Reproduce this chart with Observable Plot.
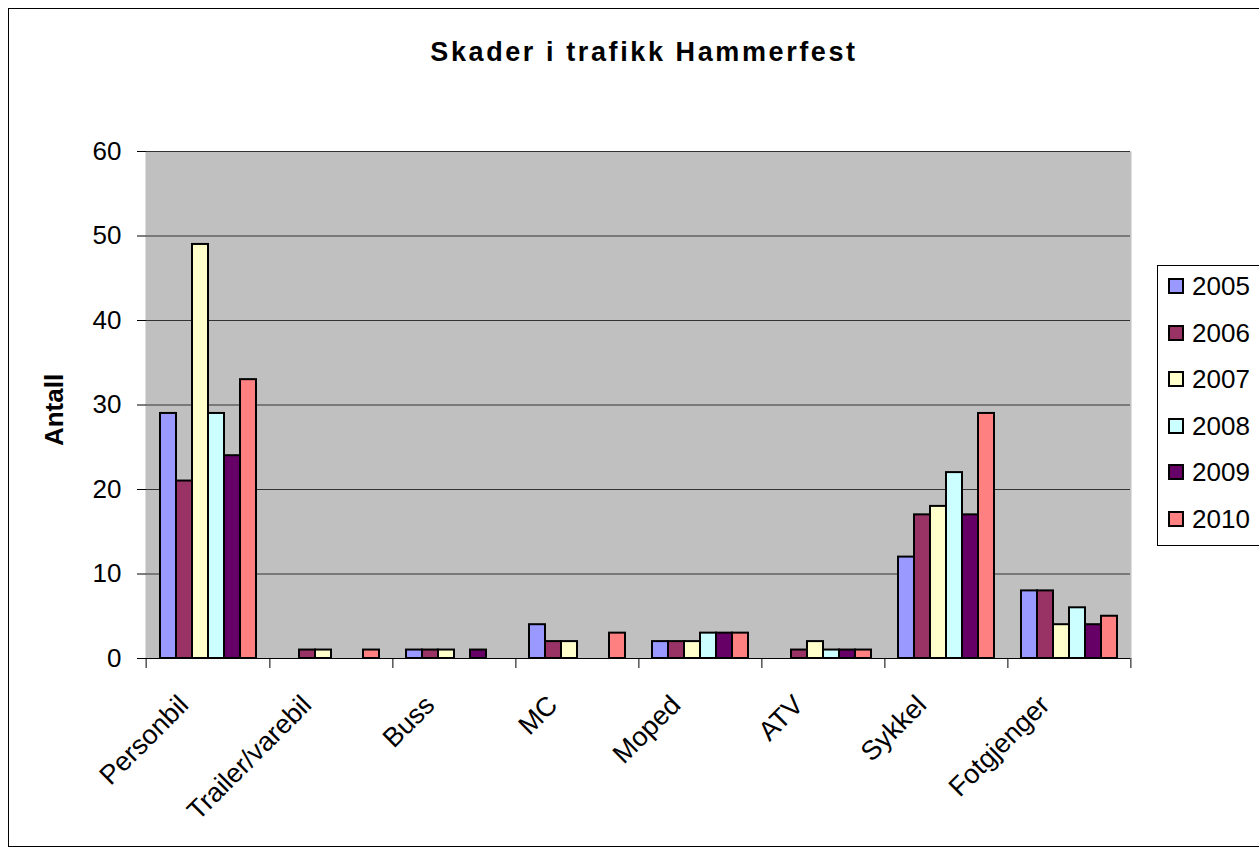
<!DOCTYPE html>
<html>
<head>
<meta charset="utf-8">
<script src="https://cdn.jsdelivr.net/npm/d3@7"></script>
<script src="https://cdn.jsdelivr.net/npm/@observablehq/plot@0.6"></script>
<style>
  html, body { margin: 0; padding: 0; background: #fff; overflow: hidden; }
  body { width: 1259px; height: 856px; position: relative; font-family: "Liberation Sans", Arial, sans-serif; }
  #frame { position: absolute; left: 8px; top: 8px; width: 1300px; height: 839px; border: 1px solid #000; box-sizing: border-box; }
  #chart { position: absolute; left: 0; top: 0; }
  #title { position: absolute; left: 0; width: 1288px; top: 39px; text-align: center; font-weight: bold; font-size: 27px; line-height: 27px; letter-spacing: 2.6px; }
  #ylabel { position: absolute; left: 54px; top: 410px; transform: translate(-50%, -50%) rotate(-90deg); font-weight: bold; font-size: 26px; line-height: 26px; white-space: nowrap; }
  #legend { position: absolute; left: 1157px; top: 265px; width: 140px; height: 281px; border: 1px solid #000; box-sizing: border-box; background: #fff; }
  .item { position: absolute; left: 10px; height: 28px; display: flex; align-items: center; font-size: 26px; line-height: 28px; }
  .sw { width: 12px; height: 12px; border: 2px solid #000; margin-right: 8px; }
</style>
</head>
<body>
<div id="frame"></div>
<div id="chart"></div>
<div id="title">Skader i trafikk Hammerfest</div>
<div id="ylabel">Antall</div>
<div id="legend"></div>
<script>
const categories = ["Personbil", "Trailer/varebil", "Buss", "MC", "Moped", "ATV", "Sykkel", "Fotgjenger"];
const years = ["2005", "2006", "2007", "2008", "2009", "2010"];
const v2005 = [29, 0, 1, 4, 2, 0, 12, 8];
const v2006 = [21, 1, 1, 2, 2, 1, 17, 8];
const v2007 = [49, 1, 1, 2, 2, 2, 18, 4];
const v2008 = [29, 0, 0, 0, 3, 1, 22, 6];
const v2009 = [24, 0, 1, 0, 3, 1, 17, 4];
const v2010 = [33, 1, 0, 3, 3, 1, 29, 5];
const yTicks = [0, 10, 20, 30, 40, 50, 60];
const colors = ["#9999FF", "#993366", "#FFFFCC", "#CCFFFF", "#660066", "#FF8080"];

const series = [v2005, v2006, v2007, v2008, v2009, v2010];
const rows = [];
categories.forEach((c, i) => {
  years.forEach((y, j) => {
    rows.push({category: c, year: y, value: series[j][i]});
  });
});
const bars = rows.filter(d => d.value > 0);

const W = 1259, H = 856;
const mL = 143, mR = 126, mT = 151, mB = 198;
const step = (W - mL - mR) / categories.length;

const chart = Plot.plot({
  width: W,
  height: H,
  marginLeft: mL,
  marginRight: mR,
  marginTop: mT,
  marginBottom: mB,
  style: {fontFamily: "'Liberation Sans', Arial, sans-serif", background: "transparent", color: "#000"},
  fx: {domain: categories, padding: 0, label: null},
  x: {domain: years, paddingInner: 0, paddingOuter: 0.71, axis: null},
  y: {domain: [0, 60], label: null},
  color: {domain: years, range: colors},
  marks: [
    Plot.frame({fill: "#C0C0C0", stroke: null, insetLeft: -1, insetRight: -1}),
    Plot.gridY(yTicks, {stroke: "#333333", strokeOpacity: 1, strokeWidth: 1.2}),
    Plot.axisY({ticks: yTicks, tickSize: 9, tickPadding: 16, fontSize: 26, line: true, stroke: "#000", label: null}),
    Plot.axisY({anchor: "right", ticks: [], line: true, stroke: "#808080", label: null}),
    Plot.barY(bars, {fx: "category", x: "year", y: "value", fill: "year", stroke: "#000", strokeWidth: 2}),
    Plot.ruleY([0], {stroke: "#000", strokeWidth: 1.2}),
    Plot.axisFx({anchor: "bottom", tickSize: 10, tickFormat: () => "", dx: step / 2, label: null}),
    Plot.axisFx({anchor: "bottom", ticks: [categories[0]], tickSize: 10, tickFormat: () => "", dx: -step / 2, label: null}),
    Plot.axisFx({anchor: "bottom", tickSize: 0, tickPadding: 42, dx: -24, tickRotate: -45, fontSize: 27, label: null})
  ]
});
document.getElementById("chart").appendChild(chart);

const legend = document.getElementById("legend");
years.forEach((y, i) => {
  const it = document.createElement("div");
  it.className = "item";
  it.style.top = (6 + i * 46.6) + "px";
  const sw = document.createElement("div");
  sw.className = "sw";
  sw.style.background = colors[i];
  it.appendChild(sw);
  it.appendChild(document.createTextNode(y));
  legend.appendChild(it);
});
</script>
</body>
</html>
